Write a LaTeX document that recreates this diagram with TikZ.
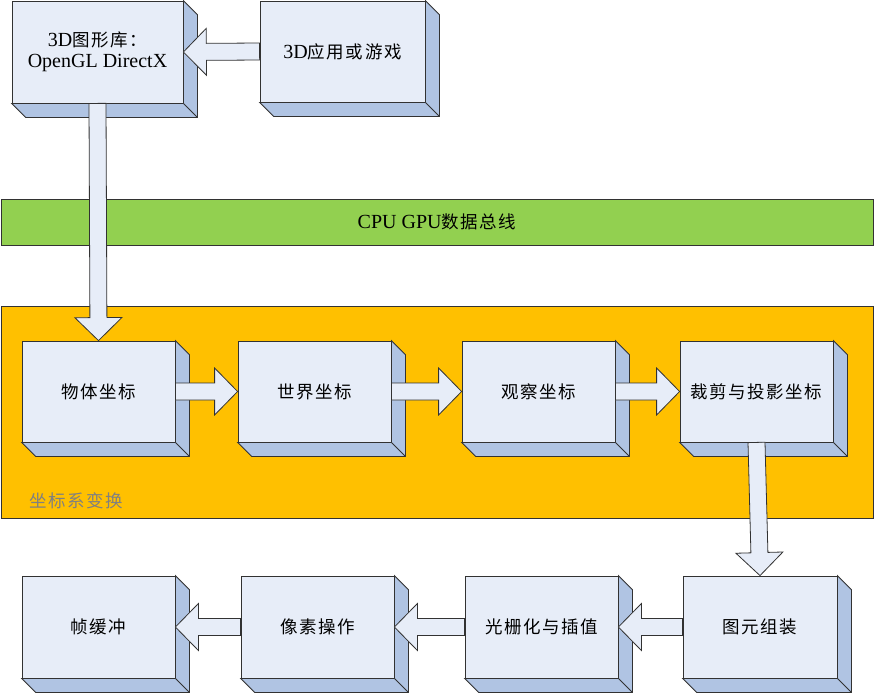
\documentclass[tikz,border=0pt]{standalone}
\usepackage{fontspec}
\setmainfont{Liberation Serif}
\newfontfamily\cjkfam[LetterSpace=9]{Noto Sans CJK SC}
\usetikzlibrary{calc}
\definecolor{frontcol}{RGB}{231,237,248}
\definecolor{depthcol}{RGB}{176,196,227}
\definecolor{linecol}{RGB}{50,50,50}
\definecolor{busgreen}{RGB}{146,208,80}
\definecolor{stageorange}{RGB}{255,192,0}
\definecolor{labelgrey}{RGB}{128,128,128}
\newcommand\cjtext[1]{{\cjkfam\fontsize{17.5pt}{21pt}\selectfont #1}}
\newcommand\latext[1]{{\fontsize{20pt}{21pt}\selectfont #1}}
\newcommand\barrow[2]{%
  \path ($(#2)!23pt!(#1)$) coordinate (barrowc);
  \draw[blockarrow] ($(#1)!8.5pt!90:(#2)$) -- ($(barrowc)!8.5pt!90:(#2)$)
    -- ($(barrowc)!23.5pt!90:(#2)$) -- (#2) -- ($(barrowc)!23.5pt!-90:(#2)$)
    -- ($(barrowc)!8.5pt!-90:(#2)$) -- ($(#1)!8.5pt!-90:(#2)$) -- cycle;}
\tikzset{
  box3d/.style={draw=linecol, fill=frontcol, line width=0.8pt, inner sep=0pt,
    minimum width=153pt, minimum height=101pt, align=center,
    font=\fontsize{20pt}{21pt}\selectfont},
  depthface/.style={draw=linecol, fill=depthcol, line width=0.8pt, line join=miter},
  blockarrow/.style={draw=linecol, fill=frontcol, line width=0.8pt, line join=miter},
  busbar/.style={draw=linecol, fill=busgreen, line width=0.8pt, inner sep=0pt},
  stagebg/.style={draw=linecol, fill=stageorange, line width=0.8pt, inner sep=0pt}
}
\begin{document}
\begin{tikzpicture}[x=1pt,y=-1pt]
\useasboundingbox (0,0) rectangle (874,693);
% bus and stage background
\node[busbar, minimum width=872pt, minimum height=46pt] (bus) at (437,222)
  {\latext{CPU GPU}\cjtext{数据总线}};
\node[stagebg, minimum width=872pt, minimum height=212pt] (stage) at (437,412) {};
\node[anchor=west, text=labelgrey, inner sep=0pt] (stagelabel) at (29,501) {\cjtext{坐标系变换}};
% boxes
\node[box3d, minimum width=171pt, minimum height=102pt] (b1) at (97.5,52)
  {\latext{3D}\cjtext{图形库：}\\\latext{OpenGL DirectX}};
\node[box3d, minimum width=165pt, minimum height=101pt] (b2) at (342.5,51.5)
  {\latext{3D}\cjtext{应用或游戏}};
\node[box3d] (r1a) at (98.5,391.5) {\cjtext{物体坐标}};
\node[box3d] (r1b) at (314.5,391.5) {\cjtext{世界坐标}};
\node[box3d] (r1c) at (538.5,391.5) {\cjtext{观察坐标}};
\node[box3d] (r1d) at (756.5,391.5) {\cjtext{裁剪与投影坐标}};
\node[box3d, minimum height=102pt] (r2a) at (98.5,627) {\cjtext{帧缓冲}};
\node[box3d, minimum height=102pt] (r2b) at (317.5,627) {\cjtext{像素操作}};
\node[box3d, minimum height=102pt] (r2c) at (541.5,627) {\cjtext{光栅化与插值}};
\node[box3d, minimum width=154pt, minimum height=102pt] (r2d) at (760,627) {\cjtext{图元组装}};
% depth faces
\foreach \n in {b1,b2,r1a,r1b,r1c,r1d,r2a,r2b,r2c,r2d}{
  \draw[depthface] (\n.north east) -- ++(14pt,-14pt) -- ($(\n.south east)+(14pt,-14pt)$)
    -- ($(\n.south west)+(14pt,-14pt)$) -- (\n.south west) -- (\n.south east) -- cycle;
  \draw[depthface] (\n.south east) -- ++(14pt,-14pt);
}
% block arrows
\barrow{b2.west}{b1.east}
\barrow{b1.south}{r1a.north}
\barrow{r1a.east}{r1b.west}
\barrow{r1b.east}{r1c.west}
\barrow{r1c.east}{r1d.west}
\barrow{r1d.south}{r2d.north}
\barrow{r2d.west}{r2c.east}
\barrow{r2c.west}{r2b.east}
\barrow{r2b.west}{r2a.east}
\end{tikzpicture}
\end{document}
